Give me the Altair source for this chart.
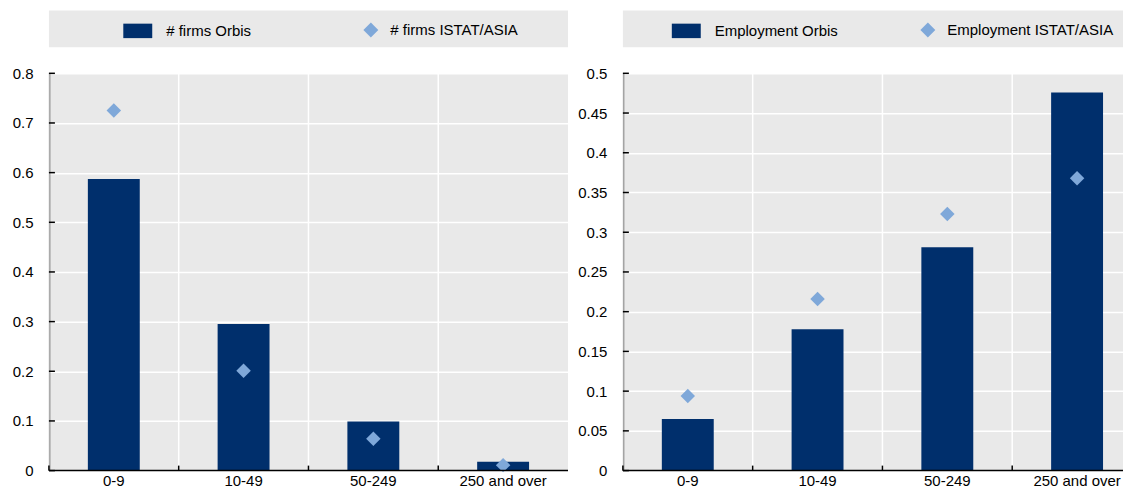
import altair as alt
import pandas as pd

categories = ["0-9", "10-49", "50-249", "250 and over"]

firms_orbis = [0.587, 0.295, 0.099, 0.018]
firms_istat = [0.725, 0.201, 0.064, 0.011]
emp_orbis = [0.065, 0.178, 0.281, 0.476]
emp_istat = [0.094, 0.216, 0.323, 0.368]

left_ticks = [0, 0.1, 0.2, 0.3, 0.4, 0.5, 0.6, 0.7, 0.8]
right_ticks = [0, 0.05, 0.1, 0.15, 0.2, 0.25, 0.3, 0.35, 0.4, 0.45, 0.5]

NAVY = "#002f6c"
LIGHT = "#7fa8d9"
GREY = "#e9e9e9"
FONT = "Liberation Sans"
FS = 15
BAND_W = 520
H = 398


def panel(bar_vals, pt_vals, bar_name, pt_name, ymax, ticks, W, bar_lx, pt_lx):
    bars = pd.DataFrame({"cat": categories, "v": bar_vals, "s": bar_name})
    pts = pd.DataFrame({"cat": categories, "v": pt_vals, "s": pt_name})
    tdf = pd.DataFrame({"v": ticks})
    cdf = pd.DataFrame({"cat": categories})
    box = pd.DataFrame({"a": [0]})

    xsc = alt.Scale(domain=categories, paddingInner=0, paddingOuter=0, range=[0, BAND_W])
    ysc = alt.Scale(domain=[0, ymax], nice=False)

    y_axis = alt.Axis(title=None, values=ticks, ticks=False, grid=True, gridColor="white",
                      gridWidth=1.5, domainColor="black", domainWidth=1.5,
                      labelFont=FONT, labelFontSize=FS, labelColor="black", labelPadding=16,
                      labelExpr="format(datum.value, '~g')")

    X = alt.X("cat:N", scale=xsc, axis=None, sort=categories)
    Xb = alt.X("cat:N", scale=xsc, axis=None, sort=categories, bandPosition=0)
    Y = alt.Y("v:Q", scale=ysc, axis=y_axis)

    bg = alt.Chart(box).mark_rect(color=GREY).encode(
        x=alt.value(0), x2=alt.value(W), y=alt.value(-63), y2=alt.value(-26)
    )

    vgrid = alt.Chart(cdf).mark_rule(color="white", strokeWidth=1.5).encode(
        x=Xb, y=alt.value(0), y2=alt.value(H)
    )

    bar = alt.Chart(bars).mark_bar(width=alt.RelativeBandSize(0.4)).encode(
        x=X, y=Y,
        color=alt.Color("s:N", scale=alt.Scale(domain=[bar_name], range=[NAVY]),
                        legend=alt.Legend(title=None, orient="none", legendX=bar_lx, legendY=-57,
                                          padding=0, labelFont=FONT, labelFontSize=FS,
                                          labelColor="black", labelOffset=14, labelLimit=0,
                                          symbolType="M-1,-0.5H1V0.5H-1Z", symbolSize=841,
                                          symbolStrokeWidth=0)),
    )

    pt = alt.Chart(pts).mark_point(filled=True, size=210, opacity=1, color=LIGHT).encode(
        x=X, y=Y,
        shape=alt.Shape("s:N", scale=alt.Scale(domain=[pt_name], range=["diamond"]),
                        legend=alt.Legend(title=None, orient="none", legendX=pt_lx, legendY=-51,
                                          padding=0, labelFont=FONT, labelFontSize=FS,
                                          labelColor="black", labelOffset=12, labelLimit=0,
                                          symbolSize=225, symbolFillColor=LIGHT,
                                          symbolStrokeWidth=0, symbolOpacity=1)),
    )

    ytick = alt.Chart(tdf).mark_rule(color="black", strokeWidth=1.5).encode(
        y=Y, x=alt.value(0), x2=alt.value(6)
    )
    xtick = alt.Chart(cdf).mark_rule(color="black", strokeWidth=1.5).encode(
        x=Xb, y=alt.value(H - 5), y2=alt.value(H)
    )
    xdomain = alt.Chart(box).mark_rule(color="black", strokeWidth=1.5).encode(
        x=alt.value(0), x2=alt.value(W), y=alt.value(H)
    )
    xlabels = alt.Chart(cdf).mark_text(
        font=FONT, fontSize=FS, color="black", align="center", baseline="alphabetic"
    ).encode(x=X, y=alt.value(H + 15), text="cat:N")

    return alt.layer(bg, vgrid, bar, pt, ytick, xtick, xdomain, xlabels).properties(
        width=W, height=H
    ).resolve_scale(color="independent", shape="independent")


left = panel(firms_orbis, firms_istat, "# firms Orbis", "# firms ISTAT/ASIA", 0.8,
             left_ticks, 520, 74.5, 315)
right = panel(emp_orbis, emp_istat, "Employment Orbis", "Employment ISTAT/ASIA", 0.5,
              right_ticks, 501, 49, 298)

chart = alt.hconcat(left, right, spacing=8).resolve_scale(
    color="independent", shape="independent", x="independent", y="independent"
).resolve_legend(color="independent", shape="independent").configure_view(
    fill=GREY, stroke=None
).properties(
    padding={"left": 4, "top": 2, "right": 0, "bottom": 0}, background="white"
)

chart.save("out.html", embed_options={"renderer": "svg", "actions": False})
